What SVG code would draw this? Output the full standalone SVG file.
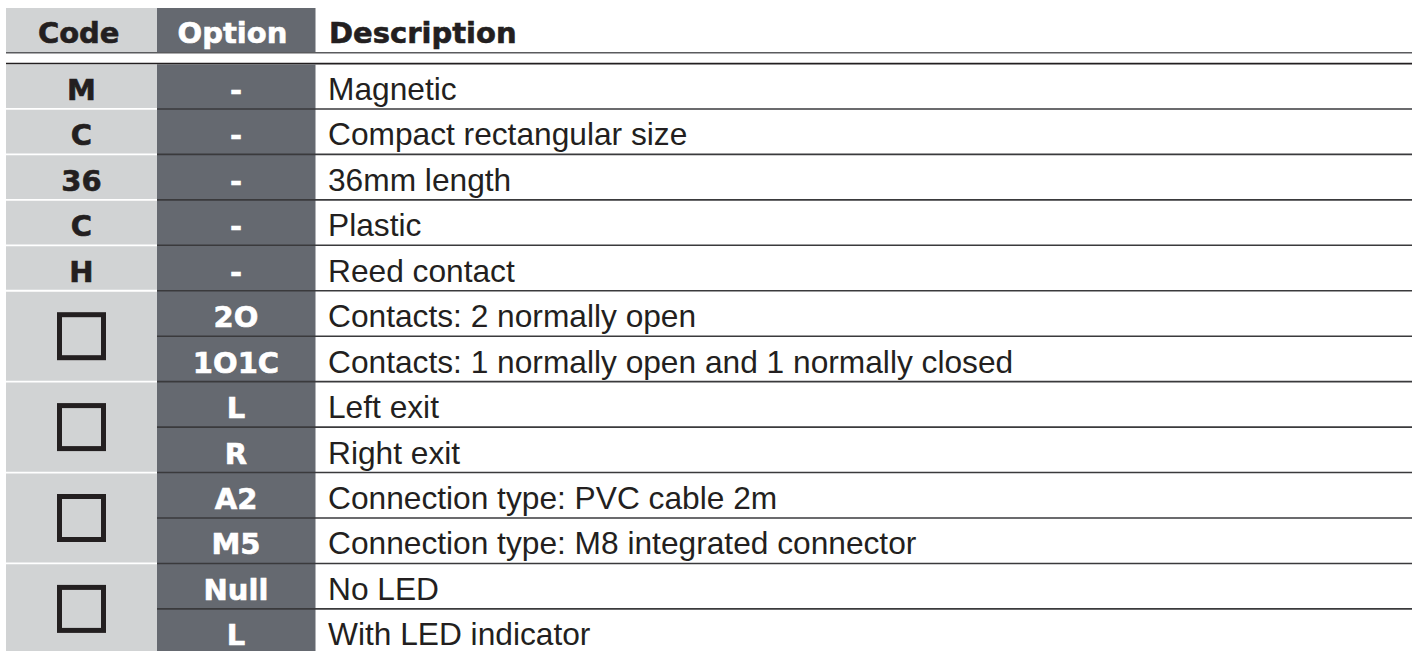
<svg xmlns="http://www.w3.org/2000/svg" width="1416" height="651" viewBox="0 0 1416 651">
<style>
.codebg{fill:#d1d3d4}
.optbg{fill:#656970}
.hd{font-family:"DejaVu Sans",sans-serif;font-weight:bold;font-size:29px;fill:#231f20;stroke:#231f20;stroke-width:0.6}
.hdo{font-family:"DejaVu Sans",sans-serif;font-weight:bold;font-size:29px;fill:#ffffff;stroke:#ffffff;stroke-width:0.6;text-anchor:middle}
.code{font-family:"DejaVu Sans",sans-serif;font-weight:bold;font-size:29px;fill:#231f20;stroke:#231f20;stroke-width:0.6;text-anchor:middle}
.opt{font-family:"DejaVu Sans",sans-serif;font-weight:bold;font-size:29px;fill:#ffffff;stroke:#ffffff;stroke-width:0.6;text-anchor:middle}
.desc{font-family:"Liberation Sans",Arial,sans-serif;font-size:31.7px;fill:#231f20}
.sep{stroke:#3a3a3c;stroke-width:1.6}
.wsep{stroke:#ffffff;stroke-width:1.8}
.box{fill:none;stroke:#231f20;stroke-width:5}
</style>
<rect x="0" y="0" width="1416" height="651" fill="#ffffff"/>
<g id="header">
<rect class="codebg" x="6" y="8" width="151" height="44.5"/>
<rect class="optbg" x="157" y="8" width="158.5" height="44.5"/>
<text class="hd" x="78.7" y="43.3" text-anchor="middle">Code</text>
<text class="hdo" x="232.5" y="43.3">Option</text>
<text class="hd" x="329" y="43.3">Description</text>
<line x1="6" y1="52.8" x2="1412" y2="52.8" stroke="#5a5b5e" stroke-width="1.6"/>
<line x1="6" y1="63.6" x2="1412" y2="63.6" stroke="#231f20" stroke-width="1.6"/>
</g>
<g id="columns">
<rect class="codebg" x="6" y="64.4" width="151" height="586.6"/>
<rect class="optbg" x="157" y="64.4" width="158.5" height="586.6"/>
</g>
<g id="connectors">
<line class="sep" x1="157" y1="108.95" x2="1412" y2="108.95"/>
<line class="sep" x1="157" y1="154.4" x2="1412" y2="154.4"/>
<line class="sep" x1="157" y1="199.85" x2="1412" y2="199.85"/>
<line class="sep" x1="157" y1="245.3" x2="1412" y2="245.3"/>
<line class="sep" x1="157" y1="290.75" x2="1412" y2="290.75"/>
<line class="sep" x1="157" y1="336.2" x2="1412" y2="336.2"/>
<line class="sep" x1="157" y1="381.65" x2="1412" y2="381.65"/>
<line class="sep" x1="157" y1="427.1" x2="1412" y2="427.1"/>
<line class="sep" x1="157" y1="472.55" x2="1412" y2="472.55"/>
<line class="sep" x1="157" y1="518" x2="1412" y2="518"/>
<line class="sep" x1="157" y1="563.45" x2="1412" y2="563.45"/>
<line class="sep" x1="157" y1="608.9" x2="1412" y2="608.9"/>
<line class="wsep" x1="6" y1="108.95" x2="157" y2="108.95"/>
<line class="wsep" x1="6" y1="154.4" x2="157" y2="154.4"/>
<line class="wsep" x1="6" y1="199.85" x2="157" y2="199.85"/>
<line class="wsep" x1="6" y1="245.3" x2="157" y2="245.3"/>
<line class="wsep" x1="6" y1="290.75" x2="157" y2="290.75"/>
<line class="wsep" x1="6" y1="381.65" x2="157" y2="381.65"/>
<line class="wsep" x1="6" y1="472.55" x2="157" y2="472.55"/>
<line class="wsep" x1="6" y1="563.45" x2="157" y2="563.45"/>
</g>
<g id="row-m">
<text class="code" x="81.5" y="99.9">M</text>
<text class="opt" x="236" y="99.9">-</text>
<text class="desc" x="328" y="99.9">Magnetic</text>
</g>
<g id="row-c1">
<text class="code" x="81.5" y="145.4">C</text>
<text class="opt" x="236" y="145.4">-</text>
<text class="desc" x="328" y="145.4">Compact rectangular size</text>
</g>
<g id="row-36">
<text class="code" x="81.5" y="190.8">36</text>
<text class="opt" x="236" y="190.8">-</text>
<text class="desc" x="328" y="190.8">36mm length</text>
</g>
<g id="row-c2">
<text class="code" x="81.5" y="236.3">C</text>
<text class="opt" x="236" y="236.3">-</text>
<text class="desc" x="328" y="236.3">Plastic</text>
</g>
<g id="row-h">
<text class="code" x="81.5" y="281.7">H</text>
<text class="opt" x="236" y="281.7">-</text>
<text class="desc" x="328" y="281.7">Reed contact</text>
</g>
<g id="group-contacts">
<rect class="box" x="59.5" y="314.7" width="44" height="43"/>
<text class="opt" x="236" y="327.2">2O</text>
<text class="desc" x="328" y="327.2">Contacts: 2 normally open</text>
<text class="opt" x="236" y="372.6">1O1C</text>
<text class="desc" x="328" y="372.6">Contacts: 1 normally open and 1 normally closed</text>
</g>
<g id="group-exit">
<rect class="box" x="59.5" y="405.6" width="44" height="43"/>
<text class="opt" x="236" y="418.1">L</text>
<text class="desc" x="328" y="418.1">Left exit</text>
<text class="opt" x="236" y="463.5">R</text>
<text class="desc" x="328" y="463.5">Right exit</text>
</g>
<g id="group-connection">
<rect class="box" x="59.5" y="496.5" width="44" height="43"/>
<text class="opt" x="236" y="509">A2</text>
<text class="desc" x="328" y="509">Connection type: PVC cable 2m</text>
<text class="opt" x="236" y="554.4">M5</text>
<text class="desc" x="328" y="554.4">Connection type: M8 integrated connector</text>
</g>
<g id="group-led">
<rect class="box" x="59.5" y="587.4" width="44" height="43"/>
<text class="opt" x="236" y="599.9">Null</text>
<text class="desc" x="328" y="599.9">No LED</text>
<text class="opt" x="236" y="645.3">L</text>
<text class="desc" x="328" y="645.3">With LED indicator</text>
</g>
</svg>
